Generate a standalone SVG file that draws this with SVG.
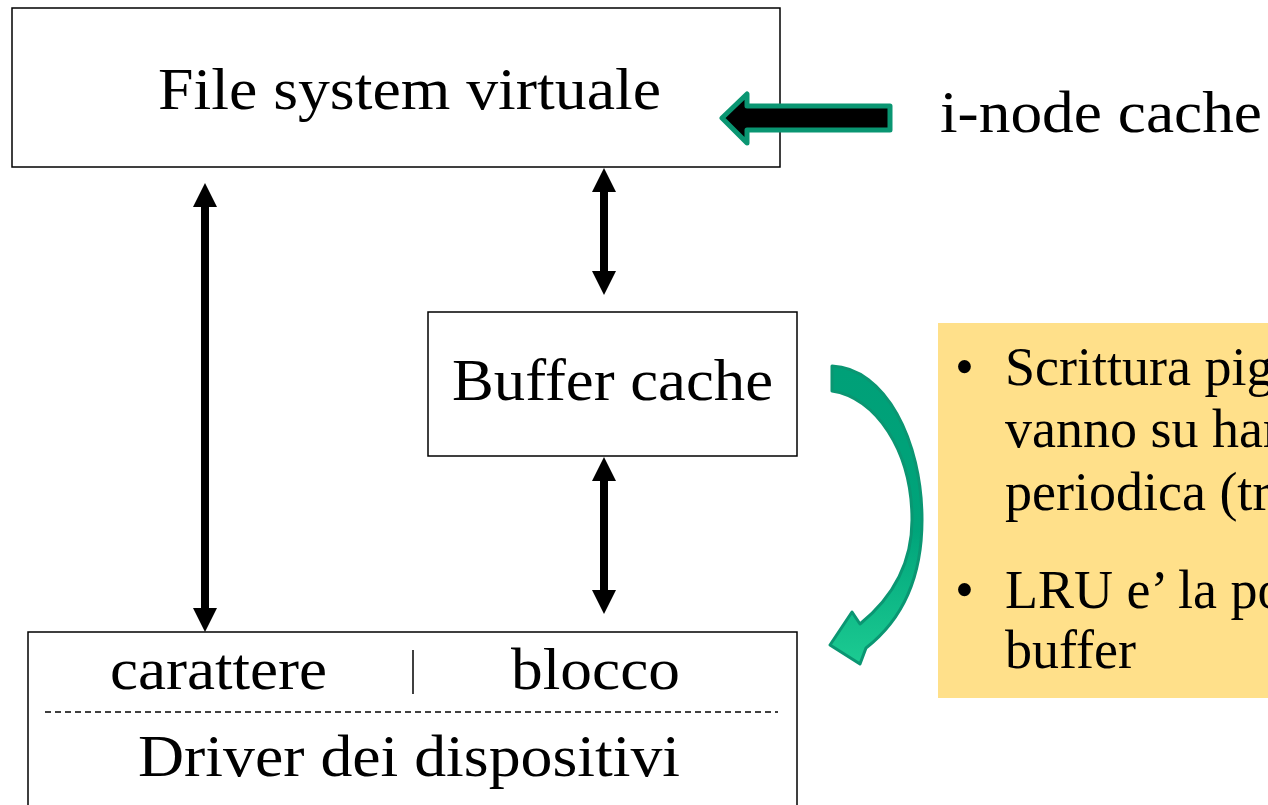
<svg xmlns="http://www.w3.org/2000/svg" width="1268" height="805" viewBox="0 0 1268 805">
<style>
.box{fill:#fff;stroke:#000;stroke-width:1.5}
.t{font-family:"Liberation Serif","Times New Roman",serif;fill:#000}
.big{font-size:59px}
.b{font-size:54px}
.shaft{stroke:#000;stroke-width:8}
.head{fill:#000}
</style>
<defs>
<linearGradient id="g" x1="0" y1="0" x2="0" y2="1">
<stop offset="0" stop-color="#00A078"/>
<stop offset="0.55" stop-color="#00A47A"/>
<stop offset="1" stop-color="#1CCB92"/>
</linearGradient>
</defs>
<rect width="1268" height="805" fill="#fff"/>
<g id="note">
<rect x="938" y="323" width="340" height="375" fill="#FFE08A"/>
<text class="t b" x="955" y="385">•</text>
<text class="t b" x="1005" y="385">Scrittura pig</text>
<text class="t b" x="1005" y="447">vanno su har</text>
<text class="t b" x="1005" y="510">periodica (tr</text>
<text class="t b" x="955" y="608">•</text>
<text class="t b" x="1005" y="608">LRU e’ la po</text>
<text class="t b" x="1005" y="668">buffer</text>
</g>
<g id="vfs">
<rect class="box" x="12" y="8" width="768" height="159"/>
<text class="t big" x="158" y="109" textLength="503" lengthAdjust="spacingAndGlyphs">File system virtuale</text>
</g>
<g id="buffer">
<rect class="box" x="428" y="312" width="369" height="144"/>
<text class="t big" x="452" y="400" textLength="321" lengthAdjust="spacingAndGlyphs">Buffer cache</text>
</g>
<g id="driver">
<rect class="box" x="28" y="632" width="769" height="190"/>
<text class="t big" x="110" y="689" textLength="217" lengthAdjust="spacingAndGlyphs">carattere</text>
<line x1="413" y1="650" x2="413" y2="694" stroke="#000" stroke-width="1.5"/>
<text class="t big" x="511" y="689" textLength="169" lengthAdjust="spacingAndGlyphs">blocco</text>
<line x1="45" y1="712" x2="778" y2="712" stroke="#000" stroke-width="1.5" stroke-dasharray="6,4"/>
<text class="t big" x="138" y="776" textLength="542" lengthAdjust="spacingAndGlyphs">Driver dei dispositivi</text>
</g>
<g id="inode">
<text class="t big" x="940" y="132" textLength="322" lengthAdjust="spacingAndGlyphs">i-node cache</text>
</g>
<g id="connectors">
<line class="shaft" x1="205" y1="200" x2="205" y2="615"/>
<polygon class="head" points="205,183 193,207 217,207"/>
<polygon class="head" points="205,632 193,608 217,608"/>
<line class="shaft" x1="604" y1="185" x2="604" y2="278"/>
<polygon class="head" points="604,168 592,192 616,192"/>
<polygon class="head" points="604,295 592,271 616,271"/>
<line class="shaft" x1="604" y1="474" x2="604" y2="597"/>
<polygon class="head" points="604,457 592,481 616,481"/>
<polygon class="head" points="604,614 592,590 616,590"/>
<polygon points="722,118 747,94 747,106 890,106 890,130 747,130 747,143" fill="#000" stroke="#0A9672" stroke-width="5" stroke-linejoin="round"/>
<path d="M832,366 C885,368 922,440 922,520 C922,578 902,620 866,648 L860,664 L830,645 L852,612 L860,624 C892,598 912,565 912,520 C912,450 875,397 832,391 Z" fill="url(#g)" stroke="#0A9672" stroke-width="3" stroke-linejoin="round"/>
</g>
</svg>
